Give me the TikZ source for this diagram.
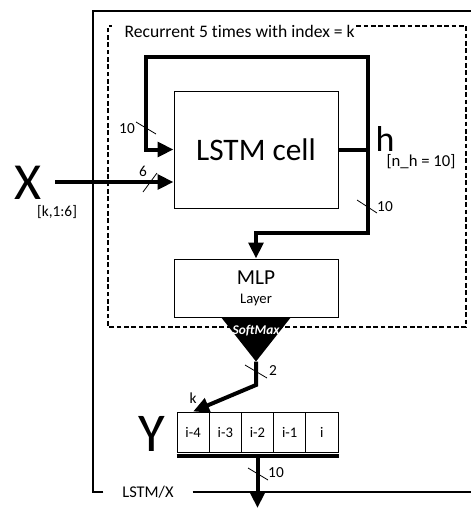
\documentclass[tikz,border=0pt]{standalone}
\usepackage{fontspec}
\setmainfont{Carlito}[Ligatures=NoCommon]
\usetikzlibrary{arrows.meta,positioning}

\begin{document}
\begin{tikzpicture}[
    x=0.75pt, y=-0.75pt,
    every node/.style={font=\fontsize{11.5}{13}\selectfont, inner sep=1pt},
    block/.style={draw, line width=0.75pt, minimum width=123pt, align=center},
    cell/.style={draw, line width=0.75pt, minimum width=24.15pt, minimum height=30pt, inner sep=0pt, font=\fontsize{11}{12}\selectfont},
    flow/.style={-{Triangle[length=12pt,width=11pt]}, line width=3pt},
    bus/.style={line width=3pt},
    tick/.style={line width=0.6pt},
    frame/.style={line width=0.9pt},
    loopbox/.style={dashed, dash pattern=on 3.5pt off 2pt, line width=1pt}
]
\useasboundingbox (0,0) rectangle (471,508);

% outer frame
\node[font=\fontsize{12.3}{14}\selectfont, inner xsep=14pt] (frametitle) at (148,492) {LSTM/X};
\draw[frame] (frametitle.west) -- (93,492) -- (93,11) -- (471,11);
\draw[frame] (frametitle.east) -- (471,492);

% recurrent part
\node[anchor=west, font=\fontsize{13.2}{15}\selectfont] (recur) at (123,31) {Recurrent 5 times with index = k};
\draw[loopbox] (recur.east |- 0,26) -- (466,26) -- (466,327) -- (108,327) -- (108,26) -- (112,26);

\node[block, minimum height=87.75pt, font=\fontsize{23.5}{28}\selectfont] (lstm) at (256,149.5) {LSTM cell};
\node[block, minimum height=43.5pt, below=37.5pt of lstm] (mlp) {\fontsize{16}{17}\selectfont MLP\\[1pt]\fontsize{11}{12}\selectfont Layer};

% softmax
\coordinate (smax) at ([yshift=-33pt]mlp.south);
\fill ([xshift=-26pt]mlp.south) -- ([xshift=26pt]mlp.south) -- (smax) -- cycle;
\node[text=white, font=\fontsize{10}{11}\selectfont\bfseries\itshape] (smaxlabel) at ([yshift=-10pt]mlp.south) {SoftMax};

% input X
\node[font=\fontsize{39}{39}\selectfont] (xin) at (28,183) {X};
\node[font=\fontsize{11.5}{13}\selectfont] (xidx) at (57,212) {[k,1:6]};
\coordinate (xstart) at (55,182);
\draw[flow] (xstart) -- (xstart -| lstm.west);
\draw[tick] (143,192) -- (157,173);
\node (xdim) at (143,171) {6};

% hidden state loop
\coordinate (hjoin) at (368,149.5);
\coordinate (looptop) at (146,57);
\coordinate (hdown) at (368,233);
\draw[flow] (lstm.east) -- (hjoin) |- (looptop) |- (lstm.west);
\draw[flow] (hjoin) -- (hdown) -| (mlp.north);
\node[font=\fontsize{27}{27}\selectfont] (hlabel) at (385,139) {h};
\node[font=\fontsize{12.5}{14}\selectfont] (hdim) at (421,162) {[n\_h = 10]};
\draw[tick] (136,122) -- (156,134);
\node (loopdim) at (127,129) {10};
\draw[tick] (357,200) -- (377,213);
\node (hdowndim) at (385,207) {10};

% output Y
\node[font=\fontsize{41}{41}\selectfont] (ylabel) at (152,434) {Y};
\foreach \lbl [count=\i] in {i-4,i-3,i-2,i-1,i}
    \node[cell] (y\i) at ({177+32.2*(\i-0.5)},432) {\lbl};
\coordinate (bend) at (256,385);
\draw[flow] (smax) -- (bend) -- (y1.north);
\draw[tick] (245,365) -- (267,378);
\node (smaxdim) at (273,371) {2};
\node (kidx) at (193,398) {k};

\draw[bus] ([yshift=-2.5pt]y1.south west) -- ([yshift=-2.5pt]y5.south east);
\coordinate (busmid) at ([yshift=-2.5pt]y3.south);
\coordinate (yout) at (busmid |- 0,508);
\draw[flow] (busmid) -- (yout);
\draw[tick] (248,468) -- (268,480);
\node (ydim) at (276,473) {10};
\end{tikzpicture}
\end{document}
